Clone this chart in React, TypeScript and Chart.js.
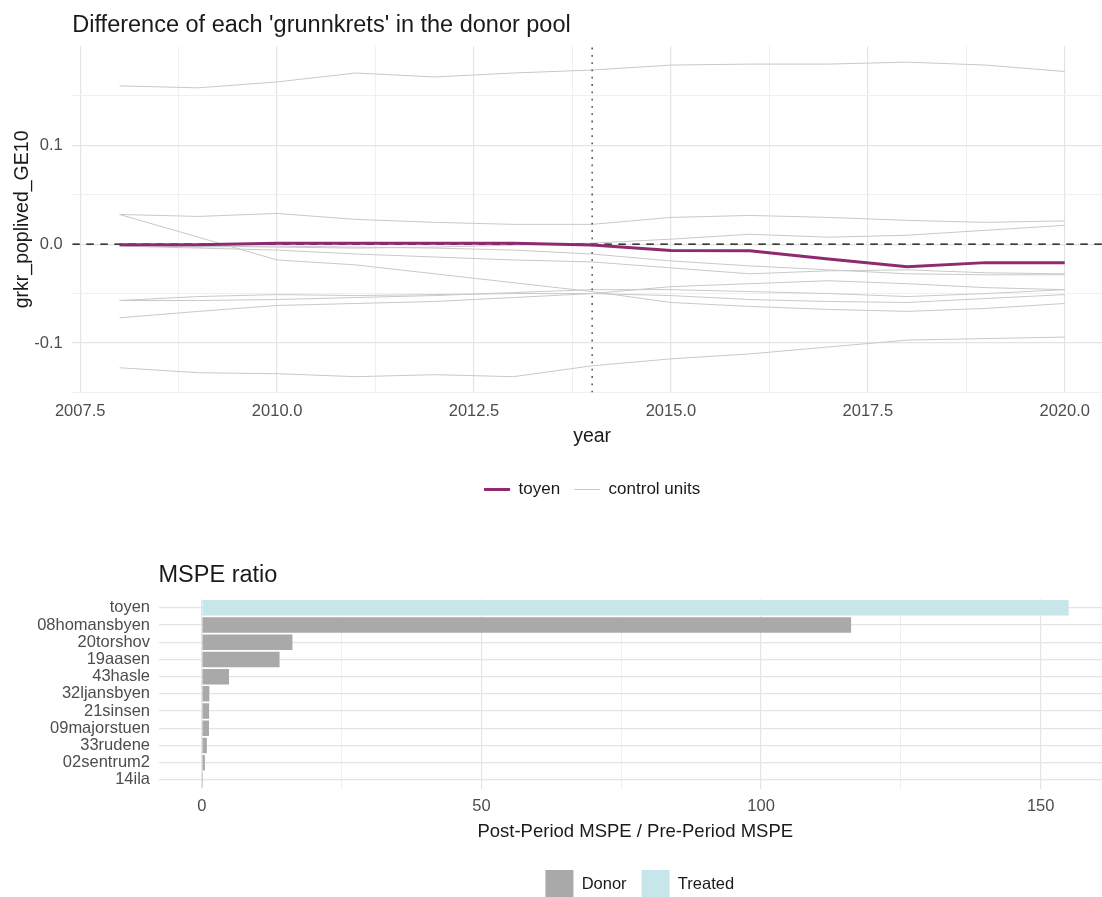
import React, { useEffect, useRef } from 'react';
import { Chart, registerables } from 'chart.js';

Chart.register(...registerables);

const FONT = '"Liberation Sans", Arial, Helvetica, sans-serif';

// ---------- Top panel: gaps per grunnkrets ----------
const years = [2008, 2009, 2010, 2011, 2012, 2013, 2014, 2015, 2016, 2017, 2018, 2019, 2020];
const toyenGap = [-0.0007, -0.0007, 0.001, 0.001, 0.001, 0.001, -0.001, -0.0065, -0.0068, -0.015, -0.0228, -0.0187, -0.0187];
const control01 = [0.160, 0.158, 0.164, 0.173, 0.169, 0.173, 0.176, 0.181, 0.182, 0.182, 0.184, 0.181, 0.1745];
const control02 = [0.030, 0.028, 0.031, 0.025, 0.022, 0.020, 0.020, 0.027, 0.029, 0.027, 0.024, 0.022, 0.0235];
const control03 = [-0.001, -0.002, -0.003, -0.004, -0.003, -0.001, 0.001, 0.005, 0.010, 0.007, 0.009, 0.014, 0.019];
const control04 = [0.030, 0.007, -0.016, -0.021, -0.030, -0.039, -0.048, -0.059, -0.063, -0.066, -0.068, -0.065, -0.060];
const control05 = [-0.002, -0.004, -0.006, -0.010, -0.013, -0.016, -0.018, -0.024, -0.030, -0.027, -0.026, -0.029, -0.030];
const control06 = [-0.057, -0.053, -0.051, -0.052, -0.051, -0.050, -0.050, -0.052, -0.056, -0.058, -0.059, -0.055, -0.051];
const control07 = [-0.057, -0.057, -0.056, -0.054, -0.052, -0.049, -0.046, -0.046, -0.048, -0.050, -0.053, -0.050, -0.046];
const control08 = [-0.0745, -0.068, -0.062, -0.060, -0.058, -0.054, -0.050, -0.043, -0.040, -0.037, -0.040, -0.044, -0.046];
const control09 = [-0.125, -0.130, -0.131, -0.134, -0.132, -0.134, -0.123, -0.116, -0.111, -0.104, -0.097, -0.0955, -0.094];
const control10 = [-0.001, -0.003, -0.002, -0.003, -0.004, -0.006, -0.010, -0.017, -0.022, -0.026, -0.030, -0.031, -0.031];
const controlSeries = [control01, control02, control03, control04, control05, control06, control07, control08, control09, control10];

const treatmentYear = 2014;
const zeroLevel = 0;
const xLimits = [2007.4, 2020.6];
const yLimits = [-0.15, 0.2];
const xTicksMajor = [2007.5, 2010, 2012.5, 2015, 2017.5, 2020];
const xTicksMinor = [2008.75, 2011.25, 2013.75, 2016.25, 2018.75];
const yTicksMajor = [-0.1, 0, 0.1];
const yTicksMinor = [-0.15, -0.05, 0.05, 0.15];

// ---------- Bottom panel: MSPE ratio ----------
const mspeUnits = ['toyen', '08homansbyen', '20torshov', '19aasen', '43hasle', '32ljansbyen', '21sinsen', '09majorstuen', '33rudene', '02sentrum2', '14ila'];
const mspeRatios = [155.0, 116.1, 16.2, 13.9, 4.85, 1.35, 1.3, 1.28, 0.9, 0.55, 0.2];
const mspeGroups = ['Treated', 'Donor', 'Donor', 'Donor', 'Donor', 'Donor', 'Donor', 'Donor', 'Donor', 'Donor', 'Donor'];
const mspeLimits = [-7.75, 162.75];
const mspeTicksMajor = [0, 50, 100, 150];
const mspeTicksMinor = [25, 75, 125];

// ---------- Styles ----------
const TOYEN_COLOR = '#8f2a70';
const CONTROL_COLOR = '#c9c9c9';
const DONOR_COLOR = '#a9a9a9';
const TREATED_COLOR = '#c6e6ea';
const TEXT_DARK = '#1a1a1a';
const TEXT_TICK = '#4d4d4d';
const GRID_MAJOR = '#e4e4e4';
const GRID_MINOR = '#eeeeee';

const has = (list: number[], v: number) => list.some((m) => Math.abs(m - v) < 1e-9);
const sorted = (a: number[], b: number[]) => [...a, ...b].sort((p, q) => p - q);

const alignPlugin = {
  id: 'alignBlocks',
  afterLayout(chart: any, _args: any, opts: any) {
    if (chart.titleBlock) chart.titleBlock.left = chart.chartArea.left;
    if (chart.legend && opts) {
      chart.legend.left = opts.legendLeft;
      chart.legend.right = opts.legendRight;
    }
  },
};

function topConfig(): any {
  const toPts = (arr: number[]) => years.map((x, i) => ({ x, y: arr[i] }));
  const datasets: any[] = [
    { label: 'toyen', data: toPts(toyenGap), borderColor: TOYEN_COLOR, borderWidth: 3, pointRadius: 0, tension: 0, fill: false },
    {
      label: 'zero',
      data: [{ x: xLimits[0], y: zeroLevel }, { x: xLimits[1], y: zeroLevel }],
      borderColor: '#000000', borderWidth: 1.3, borderDash: [7.5, 6.5], pointRadius: 0, fill: false,
    },
    {
      label: 'treatment',
      data: [{ x: treatmentYear, y: yLimits[0] }, { x: treatmentYear, y: yLimits[1] }],
      borderColor: '#444444', borderWidth: 1.4, borderDash: [1.8, 5.5], pointRadius: 0, fill: false,
    },
    ...controlSeries.map((arr) => ({
      label: 'control units', data: toPts(arr), borderColor: CONTROL_COLOR, borderWidth: 1, pointRadius: 0, tension: 0, fill: false,
    })),
  ];
  return {
    type: 'line',
    data: { datasets },
    plugins: [alignPlugin],
    options: {
      responsive: false,
      animation: false,
      devicePixelRatio: 1,
      layout: { padding: 0 },
      plugins: {
        alignBlocks: { legendLeft: 72.3, legendRight: 1112 },
        tooltip: { enabled: false },
        title: {
          display: true,
          text: "Difference of each 'grunnkrets' in the donor pool",
          align: 'start',
          color: TEXT_DARK,
          font: { family: FONT, size: 23.5, weight: 'normal' },
          padding: { top: 11.1, bottom: 7.0 },
        },
        legend: {
          position: 'bottom',
          align: 'center',
          labels: {
            usePointStyle: true,
            pointStyleWidth: 26,
            padding: 14,
            color: TEXT_DARK,
            font: { family: FONT, size: 17 },
            generateLabels: () => [
              { text: 'toyen', strokeStyle: TOYEN_COLOR, fillStyle: TOYEN_COLOR, lineWidth: 3, pointStyle: 'line', hidden: false, datasetIndex: 0, fontColor: TEXT_DARK },
              { text: 'control units', strokeStyle: CONTROL_COLOR, fillStyle: CONTROL_COLOR, lineWidth: 1, pointStyle: 'line', hidden: false, datasetIndex: 3, fontColor: TEXT_DARK },
            ],
          },
        },
      },
      scales: {
        x: {
          type: 'linear',
          min: xLimits[0],
          max: xLimits[1],
          afterBuildTicks: (s: any) => { s.ticks = sorted(xTicksMajor, xTicksMinor).map((value) => ({ value })); },
          afterFit: (s: any) => { s.height = 74.5; },
          border: { display: false },
          grid: {
            drawTicks: false,
            color: (c: any) => (has(xTicksMajor, c.tick.value) ? GRID_MAJOR : GRID_MINOR),
            lineWidth: (c: any) => (has(xTicksMajor, c.tick.value) ? 1.2 : 0.9),
          },
          ticks: {
            autoSkip: false,
            maxRotation: 0,
            padding: 9.5,
            color: TEXT_TICK,
            font: { family: FONT, size: 16.5 },
            callback: (v: any) => (has(xTicksMajor, Number(v)) ? Number(v).toFixed(1) : ''),
          },
          title: {
            display: true,
            text: 'year',
            color: TEXT_DARK,
            font: { family: FONT, size: 19.5 },
            padding: { top: 0, bottom: 18.4 },
          },
        },
        y: {
          type: 'linear',
          min: yLimits[0],
          max: yLimits[1],
          afterBuildTicks: (s: any) => { s.ticks = sorted(yTicksMajor, yTicksMinor).map((value) => ({ value })); },
          afterFit: (s: any) => { s.width = 72.3; },
          border: { display: false },
          grid: {
            drawTicks: false,
            color: (c: any) => (has(yTicksMajor, c.tick.value) ? GRID_MAJOR : GRID_MINOR),
            lineWidth: (c: any) => (has(yTicksMajor, c.tick.value) ? 1.2 : 0.9),
          },
          ticks: {
            autoSkip: false,
            padding: 9.6,
            color: TEXT_TICK,
            font: { family: FONT, size: 16.5 },
            callback: (v: any) => (has(yTicksMajor, Number(v)) ? Number(v).toFixed(1) : ''),
          },
          title: {
            display: true,
            text: 'grkr_poplived_GE10',
            color: TEXT_DARK,
            font: { family: FONT, size: 19.5 },
            padding: { top: 11.3, bottom: 0 },
          },
        },
      },
    },
  };
}

function bottomConfig(): any {
  return {
    type: 'bar',
    data: {
      labels: mspeUnits,
      datasets: [
        {
          label: 'MSPE ratio',
          data: mspeRatios,
          backgroundColor: mspeGroups.map((g) => (g === 'Treated' ? TREATED_COLOR : DONOR_COLOR)),
          borderWidth: 0,
          barPercentage: 0.9,
          categoryPercentage: 1,
        },
      ],
    },
    plugins: [alignPlugin],
    options: {
      indexAxis: 'y',
      responsive: false,
      animation: false,
      devicePixelRatio: 1,
      layout: { padding: 0 },
      plugins: {
        alignBlocks: { legendLeft: 158.5, legendRight: 1121 },
        tooltip: { enabled: false },
        title: {
          display: true,
          text: 'MSPE ratio',
          align: 'start',
          color: TEXT_DARK,
          font: { family: FONT, size: 23.5, weight: 'normal' },
          padding: { top: 11.1, bottom: 9.9 },
        },
        legend: {
          position: 'bottom',
          align: 'center',
          labels: {
            boxWidth: 28,
            boxHeight: 28,
            padding: 15,
            color: TEXT_DARK,
            font: { family: FONT, size: 16.5 },
            generateLabels: () => [
              { text: 'Donor', fillStyle: DONOR_COLOR, strokeStyle: DONOR_COLOR, lineWidth: 0, hidden: false, datasetIndex: 0, fontColor: TEXT_DARK },
              { text: 'Treated', fillStyle: TREATED_COLOR, strokeStyle: TREATED_COLOR, lineWidth: 0, hidden: false, datasetIndex: 0, fontColor: TEXT_DARK },
            ],
          },
        },
      },
      scales: {
        x: {
          type: 'linear',
          min: mspeLimits[0],
          max: mspeLimits[1],
          afterBuildTicks: (s: any) => { s.ticks = sorted(mspeTicksMajor, mspeTicksMinor).map((value) => ({ value })); },
          afterFit: (s: any) => { s.height = 66.5; },
          border: { display: false },
          grid: {
            drawTicks: false,
            color: (c: any) => (has(mspeTicksMajor, c.tick.value) ? GRID_MAJOR : GRID_MINOR),
            lineWidth: (c: any) => (has(mspeTicksMajor, c.tick.value) ? 1.2 : 0.9),
          },
          ticks: {
            autoSkip: false,
            maxRotation: 0,
            padding: 8.3,
            color: TEXT_TICK,
            font: { family: FONT, size: 16.5 },
            callback: (v: any) => (has(mspeTicksMajor, Number(v)) ? String(v) : ''),
          },
          title: {
            display: true,
            text: 'Post-Period MSPE / Pre-Period MSPE',
            color: TEXT_DARK,
            font: { family: FONT, size: 18.5 },
            padding: { top: 0, bottom: 12.2 },
          },
        },
        y: {
          type: 'category',
          offset: true,
          afterFit: (s: any) => { s.width = 158.5; },
          border: { display: false },
          grid: { drawTicks: false, offset: false, color: GRID_MAJOR, lineWidth: 1.2 },
          ticks: {
            autoSkip: false,
            padding: 8.5,
            color: TEXT_TICK,
            font: { family: FONT, size: 16.5 },
          },
        },
      },
    },
  };
}

export default function App() {
  const topRef = useRef<HTMLCanvasElement>(null);
  const bottomRef = useRef<HTMLCanvasElement>(null);

  useEffect(() => {
    const c1 = new Chart(topRef.current as HTMLCanvasElement, topConfig());
    const c2 = new Chart(bottomRef.current as HTMLCanvasElement, bottomConfig());
    return () => {
      c1.destroy();
      c2.destroy();
    };
  }, []);

  return (
    <div style={{ position: 'fixed', left: 0, top: 0, width: 1102, height: 897, overflow: 'hidden', background: '#ffffff' }}>
      <canvas ref={topRef} width={1112} height={508} style={{ position: 'absolute', left: 0, top: 0 }} />
      <canvas ref={bottomRef} width={1112} height={358} style={{ position: 'absolute', left: 0, top: 550 }} />
    </div>
  );
}
